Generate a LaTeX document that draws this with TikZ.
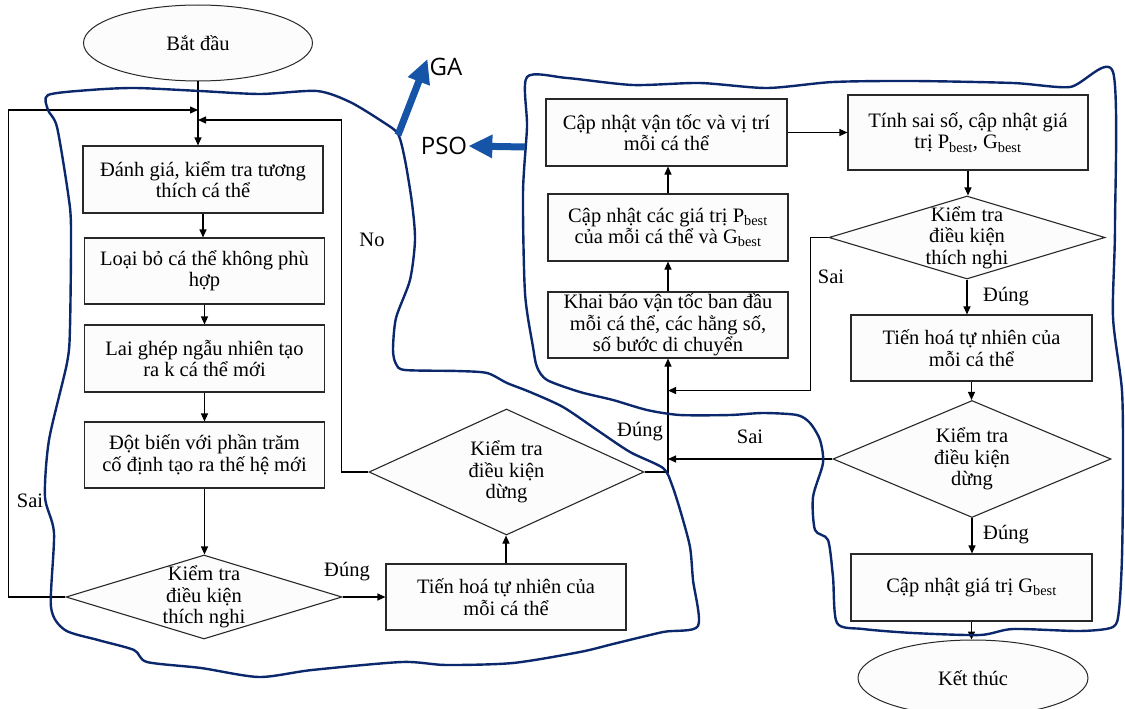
\documentclass[tikz,border=0pt]{standalone}
\usepackage{fontspec}
\setmainfont{Liberation Serif}
\newfontfamily\tagfont{Open Sans}
\usetikzlibrary{shapes.geometric,arrows.meta}
\definecolor{navyline}{RGB}{12,40,108}
\definecolor{tagblue}{RGB}{22,84,168}
\definecolor{boxfill}{RGB}{252,252,252}
\definecolor{boxdraw}{RGB}{40,40,40}
\begin{document}
\begin{tikzpicture}[x=1pt,y=-1pt,
  every node/.style={font=\rmfamily\fontsize{20.5}{21.5}\selectfont},
  box/.style={draw=boxdraw, fill=boxfill, line width=1.1pt, minimum width=240pt, minimum height=66pt, inner sep=0pt, align=center},
  startend/.style={ellipse, draw=boxdraw, fill=boxfill, line width=1pt, minimum width=229pt, minimum height=76pt, inner sep=0pt},
  dia/.style={diamond, draw=boxdraw, fill=boxfill, line width=1.1pt, inner sep=0pt},
  diatext/.style={align=center, inner sep=0pt, font=\rmfamily\fontsize{20.5}{21.5}\selectfont},
  flow/.style={line width=1.1pt, draw=black, -{Triangle[length=8pt,width=7pt]}},
  lbl/.style={inner sep=0pt},
  outline/.style={draw=navyline, line width=2.4pt, line join=round},
  tagarrow/.style={draw=tagblue, line width=7pt, -{Triangle[length=24pt,width=22pt]}},
  tag/.style={font=\tagfont\fontsize{24}{26}\selectfont, inner sep=0pt}]
\useasboundingbox (0,0) rectangle (1125,709);

% ---------- GA part ----------
\node[startend] (start) at (198,43) {Bắt đầu};
\node[box, minimum height=67pt] (g1) at (203,179.5) {Đánh giá, kiểm tra tương\\thích cá thể};
\node[box] (g2) at (204.5,271) {Loại bỏ cá thể không phù\\hợp};
\node[box, minimum height=67pt] (g3) at (204.5,358.5) {Lai ghép ngẫu nhiên tạo\\ra k cá thể mới};
\node[box] (g4) at (204.5,455) {Đột biến với phần trăm\\cố định tạo ra thế hệ mới};
\node[dia, minimum width=276pt, minimum height=84pt,
      label={[diatext]center:{Kiểm tra\\điều kiện\\thích nghi}}] (gd1) at (204,597) {};
\node[box] (g5) at (506,597) {Tiến hoá tự nhiên của\\mỗi cá thể};
\node[dia, minimum width=275pt, minimum height=126pt,
      label={[diatext]center:{Kiểm tra\\điều kiện\\dừng}}] (gd2) at (506.5,472) {};

\path (start.south) ++(0,28.5) coordinate (jA);
\path (start.south) ++(0,38.5) coordinate (jB);

\draw[flow] (start.south) -- (start.south |- g1.north);
\draw[flow] (g1.south) -- (g1.south |- g2.north);
\draw[flow] (g2.south) -- (g2.south |- g3.north);
\draw[flow] (g3.south) -- (g3.south |- g4.north);
\draw[flow] (g4.south) -- (g4.south |- gd1.north);
\draw[flow] (gd1.east) -- (g5.west);
\draw[flow] (g5.north) -- (g5.north |- gd2.south);
\draw[flow] (gd1.west) -- ++(-57,0) |- (jA);
\draw[flow] (gd2.west) -- ++(-27,0) |- (jB);

\node[lbl] (lsai1) at (30,501) {Sai};
\node[lbl] (ldung1) at (347,572) {Đúng};
\node[lbl] (lno) at (372,240) {No};

% ---------- PSO part ----------
\node[box, minimum width=241pt, minimum height=67pt] (p1) at (666.5,132.5) {Cập nhật vận tốc và vị trí\\mỗi cá thể};
\node[box, minimum height=67pt] (p2) at (668,227.5) {Cập nhật các giá trị P\textsubscript{best}\\của mỗi cá thể và G\textsubscript{best}};
\node[box] (p3) at (668,325) {Khai báo vận tốc ban đầu\\mỗi cá thể, các hằng số,\\số bước di chuyển};
\node[box, minimum height=75pt] (p4) at (968,132.5) {Tính sai số, cập nhật giá\\trị P\textsubscript{best}, G\textsubscript{best}};
\node[dia, minimum width=276pt, minimum height=83pt,
      label={[diatext]center:{Kiểm tra\\điều kiện\\thích nghi}}] (d3) at (967,237.5) {};
\node[box, minimum width=241pt] (p5) at (971.5,348) {Tiến hoá tự nhiên của\\mỗi cá thể};
\node[dia, minimum width=278pt, minimum height=117pt,
      label={[diatext]center:{Kiểm tra\\điều kiện\\dừng}}] (d4) at (972,459) {};
\node[box, minimum width=241pt, minimum height=67pt] (p6) at (971.5,587.5) {Cập nhật giá trị G\textsubscript{best}};
\node[startend, minimum width=230pt] (end) at (973,678) {Kết thúc};

\path (p3.south) ++(0,32) coordinate (jC);
\path (p3.south) ++(0,102) coordinate (jD);

\draw[flow] (gd2.east) -| (p3.south);
\draw[flow] (p3.north) -- (p2.south);
\draw[flow] (p2.north) -- (p2.north |- p1.south);
\draw[flow] (p1.east) -- (p1.east -| p4.west);
\draw[flow] (p4.south) -- (p4.south |- d3.north);
\draw[flow] (d3.south) -- (d3.south |- p5.north);
\draw[flow] (p5.south) -- (p5.south |- d4.north);
\draw[flow] (d4.south) -- (d4.south |- p6.north);
\draw[flow] (p6.south) -- (p6.south |- end.north);
\draw[flow] (d3.west) -- ++(-18,0) |- (jC);
\draw[flow] (d4.west) -- (d4.west -| jD);

\node[lbl] (lsai2) at (831,277) {Sai};
\node[lbl] (ldung2) at (1006,297) {Đúng};
\node[lbl] (ldung3) at (1006,535) {Đúng};
\node[lbl] (lsai3) at (750,437) {Sai};
\node[lbl] (ldung4) at (640,432) {Đúng};

% ---------- hand-drawn outlines ----------
\draw[outline] plot[smooth cycle, tension=0.45] coordinates {
 (48,95) (90,90) (135,88) (200,91) (260,94) (317,91) (350,102) (383,122) (398,134)
 (405,160) (412,203) (415,240) (410,280) (396,318) (393,350) (396,364) (405,370)
 (457,371) (487,373) (507,383) (530,392) (563,407) (597,430) (630,452) (663,468)
 (672,485) (681,513) (690,547) (693,580) (698,626) (663,632) (613,644) (580,652)
 (513,663) (446,665) (402,662) (312,670) (259,677) (201,668) (147,662) (134,650)
 (98,640) (65,630) (51,607) (54,533) (45,497) (49,440) (67,363) (70,327) (71,227)
 (68,193) (57,127) (48,110)};
\draw[outline] plot[smooth cycle, tension=0.45] coordinates {
 (527,77) (567,78) (633,85) (700,83) (767,88) (833,82) (913,81) (1013,83) (1070,87)
 (1113,72) (1115,226) (1113,317) (1122,391) (1123,474) (1122,557) (1119,610) (1113,627)
 (1080,631) (1013,629) (980,635) (913,633) (863,629) (837,623) (833,577) (828,540)
 (815,530) (813,497) (823,463) (820,440) (810,423) (797,415) (763,413) (730,415)
 (680,415) (647,410) (613,400) (580,392) (547,380) (537,367) (533,347) (525,293)
 (523,193) (527,127)};

% ---------- GA / PSO tags ----------
\node[tag] (GA) at (446,67) {GA};
\node[tag] (PSO) at (444,146) {PSO};
\coordinate (gaTail) at (398,135);
\coordinate (psoTail) at (525,147);
\draw[tagarrow] (gaTail) -- ([xshift=-2pt,yshift=8pt]GA.west);
\draw[tagarrow] (psoTail) -- ([xshift=1pt]PSO.east);
\end{tikzpicture}
\end{document}
